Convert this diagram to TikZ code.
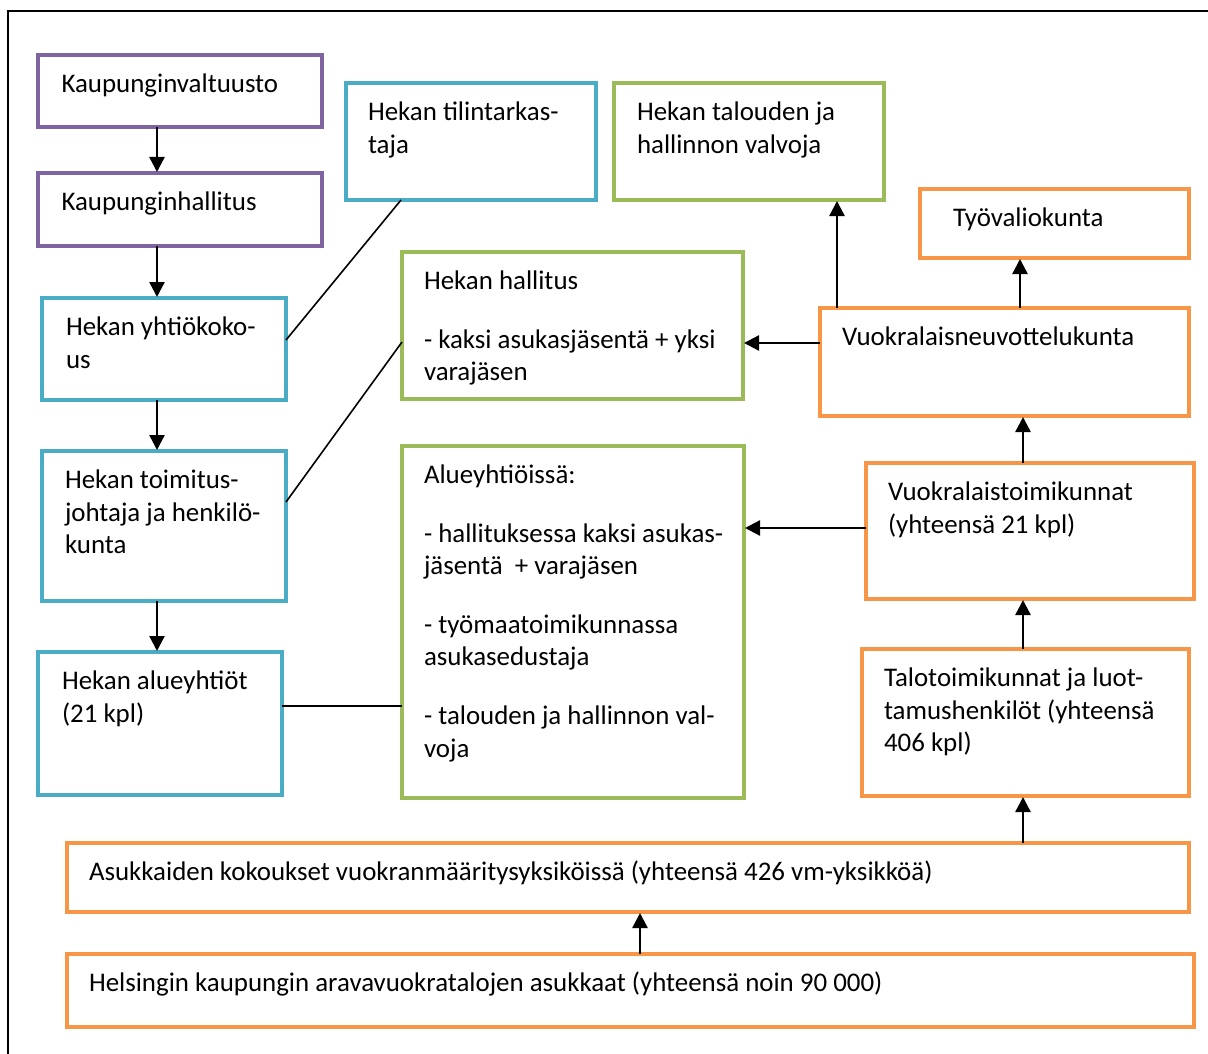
\documentclass[tikz,border=0pt]{standalone}
\usepackage{fontspec}
\setmainfont{Carlito}
\usetikzlibrary{arrows.meta,calc}
\definecolor{cpurple}{HTML}{8064A2}
\definecolor{cblue}{HTML}{4BACC6}
\definecolor{cgreen}{HTML}{9BBB59}
\definecolor{corange}{HTML}{F79646}
% box: name, style, left, top, right, bottom
\newcommand\mkbox[6]{\node[#2, minimum width={#5-#3}, minimum height={#6-#4}] (#1) at ({(#3+#5)/2},{(#4+#6)/2}) {};}
% text: box name, x inset, text
\newcommand\mktext[3]{\node[txt] (#1t) at ($(#1.north west)+(#2,14.6)$) {\strut #3};}
\begin{document}
\begin{tikzpicture}[x=1pt,y=-1pt,
  bx/.style={draw, rectangle, line width=3.4pt, inner sep=0pt, outer sep=0pt},
  pbox/.style={bx, draw=cpurple},
  bbox/.style={bx, draw=cblue},
  gbox/.style={bx, draw=cgreen},
  obox/.style={bx, draw=corange},
  txt/.style={anchor=north west, inner sep=0pt, outer sep=0pt, align=left, font=\fontsize{26.9}{32.6}\selectfont},
  arr/.style={line width=2.4pt, -{Triangle[width=15pt,length=15pt]}, shorten >=1pt},
  ln/.style={line width=1.6pt}]
\useasboundingbox (0,0) rectangle (1208,1054);
\draw[line width=2.2pt] (8,1060) -- (8,11) -- (1215,11);

\mkbox{kv}{pbox}{38}{55}{322}{127}
\mkbox{kh}{pbox}{38}{173}{322}{246}
\mkbox{yh}{bbox}{42}{298}{286}{400}
\mkbox{tj}{bbox}{42}{451}{286}{601}
\mkbox{ay}{bbox}{38}{652}{282}{795}
\mkbox{tt}{bbox}{346}{83}{596}{200}
\mkbox{tv}{gbox}{614}{83}{884}{200}
\mkbox{hh}{gbox}{402}{252}{743}{399}
\mkbox{al}{gbox}{402}{446}{744}{798}
\mkbox{tyo}{obox}{920}{189}{1189}{258}
\mkbox{vn}{obox}{820}{308}{1189}{416}
\mkbox{vt}{obox}{866}{463}{1194}{599}
\mkbox{tto}{obox}{862}{649}{1189}{796}
\mkbox{ak}{obox}{67}{843}{1189}{912}
\mkbox{hk}{obox}{67}{954}{1194}{1027}

\mktext{kv}{23.5}{Kaupunginvaltuusto}
\mktext{kh}{23.5}{Kaupunginhallitus}
\mktext{yh}{24}{Hekan yhtiökoko-\\us}
\mktext{tj}{23}{Hekan toimitus-\\johtaja ja henkilö-\\kunta}
\mktext{ay}{24}{Hekan alueyhtiöt\\(21 kpl)}
\mktext{tt}{22}{Hekan tilintarkas-\\taja}
\mktext{tv}{23}{Hekan talouden ja\\hallinnon valvoja}
\mktext{hh}{22}{Hekan hallitus\\[26pt]- kaksi asukasjäsentä + yksi\\varajäsen}
\mktext{al}{22}{Alueyhtiöissä:\\[26pt]- hallituksessa kaksi asukas-\\jäsentä\ \ + varajäsen\\[26pt]- työmaatoimikunnassa\\asukasedustaja\\[26pt]- talouden ja hallinnon val-\\voja}
\mktext{tyo}{33}{Työvaliokunta}
\mktext{vn}{22}{Vuokralaisneuvottelukunta}
\mktext{vt}{22}{Vuokralaistoimikunnat\\(yhteensä 21 kpl)}
\mktext{tto}{22}{Talotoimikunnat ja luot-\\tamushenkilöt (yhteensä\\406 kpl)}
\mktext{ak}{22}{Asukkaiden kokoukset vuokranmääritysyksiköissä (yhteensä 426 vm-yksikköä)}
\mktext{hk}{22}{Helsingin kaupungin aravavuokratalojen asukkaat (yhteensä noin 90 000)}

\coordinate (xa) at (157,0);
\coordinate (xb) at (837,0);
\coordinate (xc) at (1020,0);
\coordinate (xd) at (1023,0);
\coordinate (xe) at (640,0);
\coordinate (xf) at (401,0);
\coordinate (ya) at (0,343);
\coordinate (yb) at (0,528);
\coordinate (yc) at (0,340);
\coordinate (yd) at (0,502);
\coordinate (ye) at (0,342);
\coordinate (yf) at (0,706);

\draw[arr] (kv.south -| xa) -- (kh.north -| xa);
\draw[arr] (kh.south -| xa) -- (yh.north -| xa);
\draw[arr] (yh.south -| xa) -- (tj.north -| xa);
\draw[arr] (tj.south -| xa) -- (ay.north -| xa);
\draw[arr] (vn.north -| xb) -- (tv.south -| xb);
\draw[arr] (vn.north -| xc) -- (tyo.south -| xc);
\draw[arr] (vn.west |- ya) -- (hh.east |- ya);
\draw[arr] (vt.north -| xd) -- (vn.south -| xd);
\draw[arr] (vt.west |- yb) -- (al.east |- yb);
\draw[arr] (tto.north -| xd) -- (vt.south -| xd);
\draw[arr] (ak.north -| xd) -- (tto.south -| xd);
\draw[arr] (hk.north -| xe) -- (ak.south -| xe);

\draw[ln] (yh.east |- yc) -- (tt.south -| xf);
\draw[ln] (tj.east |- yd) -- (hh.west |- ye);
\draw[ln] (ay.east |- yf) -- (al.west |- yf);
\end{tikzpicture}
\end{document}
